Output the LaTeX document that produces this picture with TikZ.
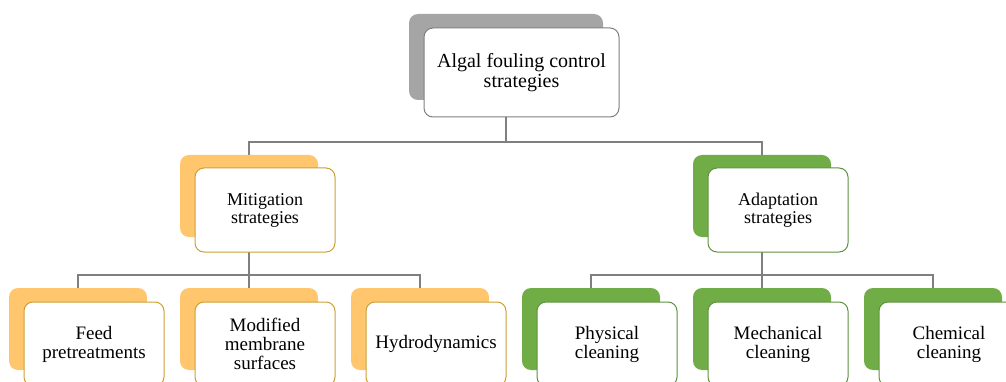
\documentclass[tikz,border=0pt]{standalone}
\usepackage{fontspec}
\setmainfont{Liberation Serif}
\usetikzlibrary{backgrounds}

\definecolor{shgray}{HTML}{A5A5A5}
\definecolor{lngray}{HTML}{7F7F7F}
\definecolor{shorange}{HTML}{FFC66D}
\definecolor{edorange}{HTML}{CDA035}
\definecolor{shgreen}{HTML}{70AD47}
\definecolor{edgreen}{HTML}{5E9140}

\begin{document}
\begin{tikzpicture}[x=1pt, y=-1pt,
  every node/.style = {inner sep=0pt, rounded corners=9pt, align=center},
  backbox/.style = {fill=#1, minimum width=138pt, minimum height=82pt},
  frontbox/.style = {draw=#1, fill=white, line width=1pt, minimum width=140pt, minimum height=84pt,
                     font=\fontsize{19}{19}\selectfont},
  conn/.style = {draw=lngray, line width=1.2pt}]
  \useasboundingbox (0,0) rectangle (1006,382);
  \clip (0,0) rectangle (1006,382);

  % root
  \node[backbox=shgray, minimum width=194pt, minimum height=86pt] (root-sh) at (506,57) {};
  \node[frontbox=lngray, minimum width=195pt, minimum height=89pt, font=\fontsize{20}{20}\selectfont]
    (root) at (521.5,72.5) {Algal fouling control\\strategies};

  % second level
  \node[backbox=shorange] (mit-sh) at (249,196) {};
  \node[frontbox=edorange, font=\fontsize{18}{18}\selectfont] (mit) at (265,210) {Mitigation\\strategies};
  \node[backbox=shgreen] (ada-sh) at (762,196) {};
  \node[frontbox=edgreen, font=\fontsize{18}{18}\selectfont] (ada) at (778,210) {Adaptation\\strategies};

  % third level
  \foreach \x/\name/\txt in {78/feed/{Feed\\pretreatments}, 249/memb/{Modified\\membrane\\surfaces}, 420/hydro/{Hydrodynamics}} {
    \node[backbox=shorange] (\name-sh) at (\x,329) {};
    \node[frontbox=edorange] (\name) at (\x+16,344) {\txt};
  }
  \foreach \x/\name/\txt in {591/phys/{Physical\\cleaning}, 762/mech/{Mechanical\\cleaning}, 933/chem/{Chemical\\cleaning}} {
    \node[backbox=shgreen] (\name-sh) at (\x,329) {};
    \node[frontbox=edgreen] (\name) at (\x+16,344) {\txt};
  }

  % connectors
  \begin{scope}[on background layer]
    \coordinate (j1) at (506,142);
    \coordinate (j2) at (249,275);
    \coordinate (j3) at (762,275);
    \draw[conn] (root-sh.south) -- (j1);
    \draw[conn] (j1) -| (mit-sh.north);
    \draw[conn] (j1) -| (ada-sh.north);
    \draw[conn] (mit-sh.south) -- (j2);
    \draw[conn] (ada-sh.south) -- (j3);
    \foreach \name in {feed, memb, hydro}
      \draw[conn] (j2) -| (\name-sh.north);
    \foreach \name in {phys, mech, chem}
      \draw[conn] (j3) -| (\name-sh.north);
  \end{scope}
\end{tikzpicture}
\end{document}
